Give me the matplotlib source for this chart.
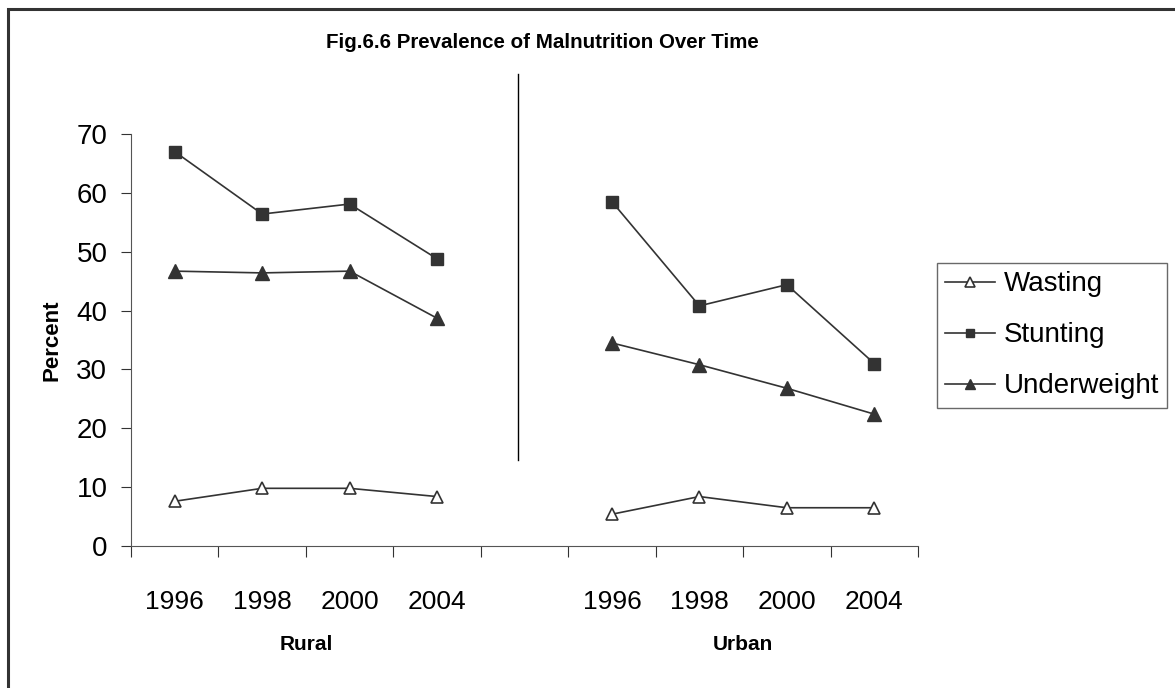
import numpy as np
import matplotlib
matplotlib.use('Agg')
import matplotlib.pyplot as plt
from matplotlib.patches import Rectangle

plt.rcParams['font.family'] = ['Liberation Sans', 'DejaVu Sans']

# Data (blank slot between the two groups)
years = ['1996', '1998', '2000', '2004', '', '1996', '1998', '2000', '2004']
groups = ['Rural', 'Urban']
wasting = [7.6, 9.8, 9.8, 8.4, np.nan, 5.4, 8.4, 6.5, 6.5]
stunting = [67.0, 56.4, 58.1, 48.8, np.nan, 58.5, 40.8, 44.4, 31.0]
underweight = [46.7, 46.4, 46.7, 38.7, np.nan, 34.5, 30.8, 26.8, 22.4]

c = '#333333'
fig = plt.figure(figsize=(11.75, 6.88), dpi=100)
ax = fig.add_axes([131 / 1175, 1 - 546 / 688, (918 - 131) / 1175, (546 - 134) / 688])

x = np.arange(len(years)) + 0.5
ax.plot(x, wasting, color=c, lw=1.2, marker='^', ms=9, mfc='white', mec=c, mew=1.2, label='Wasting')
ax.plot(x, stunting, color=c, lw=1.2, marker='s', ms=8, mfc=c, mec=c, label='Stunting')
ax.plot(x, underweight, color=c, lw=1.2, marker='^', ms=10, mfc=c, mec=c, label='Underweight')

ax.set_xlim(0, len(years))
ax.set_ylim(0, 70)
ax.set_yticks(range(0, 71, 10))
ax.tick_params(axis='y', labelsize=20, length=7, direction='out', color=c, pad=10)
ax.set_xticks(np.arange(len(years) + 1))
ax.set_xticklabels([])
ax.set_xticks(x, minor=True)
ax.set_xticklabels(years, minor=True)
ax.tick_params(axis='x', which='major', length=8, direction='out', color=c)
ax.tick_params(axis='x', which='minor', length=0, labelsize=19, pad=32)
for s in ['top', 'right']:
    ax.spines[s].set_visible(False)
for s in ['left', 'bottom']:
    ax.spines[s].set_color('#555555')

# group labels under the year labels
ax.text(2, -16.8, groups[0], ha='center', va='center', fontsize=15, fontweight='bold')
ax.text(7, -16.8, groups[1], ha='center', va='center', fontsize=15, fontweight='bold')

ax.set_ylabel('Percent', fontsize=16, fontweight='bold', labelpad=10)

# separator line between the groups
ax.plot([4.43, 4.43], [14.6, 80.2], color='black', lw=1, clip_on=False)

fig.text(542 / 1175, 1 - 43 / 688, 'Fig.6.6 Prevalence of Malnutrition Over Time',
         ha='center', va='center', fontsize=14.8, fontweight='bold')

leg = ax.legend(loc='upper left', bbox_to_anchor=(937 / 1175, 1 - 263 / 688),
                bbox_transform=fig.transFigure, fontsize=20, frameon=True,
                fancybox=False, edgecolor='#444444', handlelength=1.8,
                handletextpad=0.3, borderpad=0.3, borderaxespad=0,
                labelspacing=0.9, markerscale=0.75)
leg.get_frame().set_linewidth(1.0)

# outer frame (only left and top edges show)
fig.patches.append(Rectangle((7.5 / 1175, -0.05), 1.2, 1 - 8.5 / 688 + 0.05,
                             transform=fig.transFigure, fill=False,
                             edgecolor='#333333', lw=2.2))

fig.savefig('out.png', dpi=100)
